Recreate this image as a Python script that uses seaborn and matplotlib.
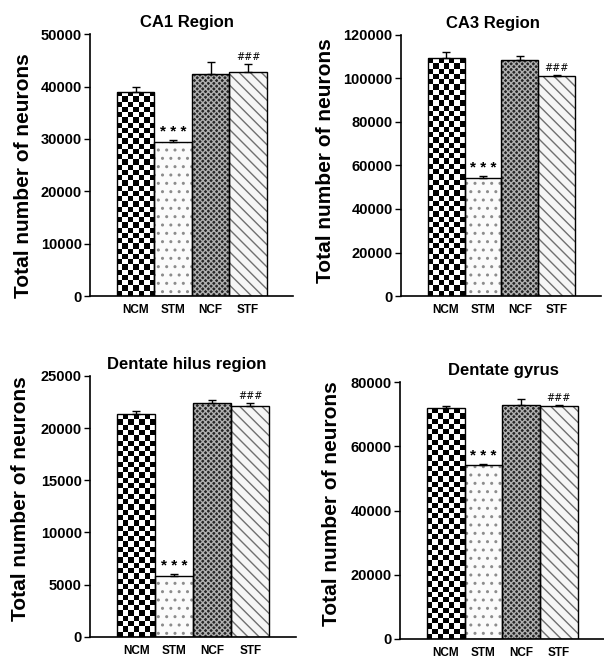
import numpy as np
import matplotlib
matplotlib.use("Agg")
import matplotlib.pyplot as plt
from matplotlib.patches import Rectangle
import seaborn as sns

# data
groups = ["NCM", "STM", "NCF", "STF"]

ca1_mean = [39000, 29400, 42400, 42800]
ca1_err = [950, 400, 2250, 1600]

ca3_mean = [109400, 54300, 108500, 101200]
ca3_err = [2650, 1000, 1800, 500]

hilus_mean = [21350, 5850, 22400, 22100]
hilus_err = [300, 200, 300, 300]

gyrus_mean = [71900, 54200, 72800, 72500]
gyrus_err = [600, 400, 1900, 300]

titles = ["CA1 Region", "CA3 Region", "Dentate hilus region", "Dentate gyrus"]
yticks = [np.arange(0, 50001, 10000), np.arange(0, 120001, 20000),
          np.arange(0, 25001, 5000), np.arange(0, 80001, 20000)]

sns.set_style("white")
plt.rcParams["font.family"] = ["Liberation Sans", "DejaVu Sans"]
plt.rcParams["text.color"] = "black"
plt.rcParams["axes.labelcolor"] = "black"
plt.rcParams["xtick.color"] = "black"
plt.rcParams["ytick.color"] = "black"
plt.rcParams["hatch.linewidth"] = 1.0

fig = plt.figure(figsize=(6.04, 6.6), dpi=100)

# [left, bottom, width, height], title x, ylabel (x, y)
layout = [
    ([0.149, 0.5515, 0.336, 0.3965], 0.48, (-0.33, 0.46)),
    ([0.664, 0.5515, 0.331, 0.3955], 0.46, (-0.38, 0.52)),
    ([0.149, 0.035, 0.341, 0.3955], 0.47, (-0.335, 0.53)),
    ([0.662, 0.032, 0.338, 0.389], 0.505, (-0.333, 0.525)),
]

panels = [(ca1_mean, ca1_err), (ca3_mean, ca3_err),
          (hilus_mean, hilus_err), (gyrus_mean, gyrus_err)]


def checker_fill(ax, bar, ymax, ax_h_px):
    x0, y0 = bar.get_x(), bar.get_y()
    w, h = bar.get_width(), bar.get_height()
    ncols = 7
    nrows = max(1, int(round(h / ymax * ax_h_px / 5.3)))
    board = (np.indices((nrows, ncols)).sum(axis=0) % 2).astype(float)
    im = ax.imshow(board, cmap="gray", extent=(x0, x0 + w, y0, y0 + h),
                   aspect="auto", interpolation="nearest", origin="lower",
                   zorder=1.5)
    im.set_clip_path(bar)


for i, ((pos, tx, (lx, ly)), (means, errs)) in enumerate(zip(layout, panels)):
    ax = fig.add_axes(pos)
    sns.barplot(x=groups, y=means, ax=ax, color="white", width=1.0,
                errorbar=None, linewidth=0, saturation=1)
    ymax = yticks[i][-1]
    ax.set_ylim(0, ymax)
    ax.set_xlim(-1.22, 4.2)
    ax_h_px = pos[3] * 660

    bars = ax.patches[:4]
    # STM: sparse dots
    bars[1].set_facecolor("#fbfbfb")
    bars[1].set_hatch("..")
    bars[1].set_edgecolor("#8c8c8c")
    # NCF: dark cross-hatch
    bars[2].set_facecolor("#262626")
    bars[2].set_hatch("xxxxxx")
    bars[2].set_edgecolor("#b0b0b0")
    # STF: diagonal dashes
    bars[3].set_facecolor("#f6f6f6")
    bars[3].set_hatch("\\\\\\")
    bars[3].set_edgecolor("#707070")
    # NCM: checkerboard
    bars[0].set_facecolor("white")
    checker_fill(ax, bars[0], ymax, ax_h_px)

    for b in bars:
        ax.add_patch(Rectangle((b.get_x(), b.get_y()), b.get_width(), b.get_height(),
                               fill=False, edgecolor="black", linewidth=1.0, zorder=2))

    ax.errorbar(np.arange(4), means, yerr=[np.zeros(4), errs], fmt="none",
                ecolor="black", elinewidth=1.0, capsize=3, capthick=1.0, zorder=3)

    ax.annotate("* * *", xy=(1, means[1] + errs[1]), xytext=(0, 0.5),
                textcoords="offset points", ha="center", va="bottom",
                fontsize=11, fontweight="bold")
    ax.annotate("###", xy=(3, means[3] + errs[3]), xytext=(0, 1.5),
                textcoords="offset points", ha="center", va="bottom",
                fontsize=7, family="DejaVu Sans")

    ax.set_yticks(yticks[i])
    ax.set_yticklabels([str(v) for v in yticks[i]], fontsize=10.5, fontweight="bold")
    ax.set_xticks(range(4))
    ax.set_xticklabels(groups, fontsize=8.5, fontweight="bold")
    ax.tick_params(axis="y", direction="out", length=4, width=1, left=True, pad=2)
    ax.tick_params(axis="x", length=0, pad=6)

    for s in ["top", "right"]:
        ax.spines[s].set_visible(False)
    for s in ["left", "bottom"]:
        ax.spines[s].set_color("black")
        ax.spines[s].set_linewidth(1.2)

    ax.set_ylabel("Total number of neurons", fontsize=15, fontweight="bold")
    ax.yaxis.set_label_coords(lx, ly)
    ax.yaxis.label.set_va("center")

    ax.annotate(titles[i], xy=(tx, 1.0), xycoords="axes fraction",
                xytext=(0, 5), textcoords="offset points", ha="center",
                va="baseline", fontsize=12, fontweight="bold")

fig.savefig("out.png", dpi=100)
